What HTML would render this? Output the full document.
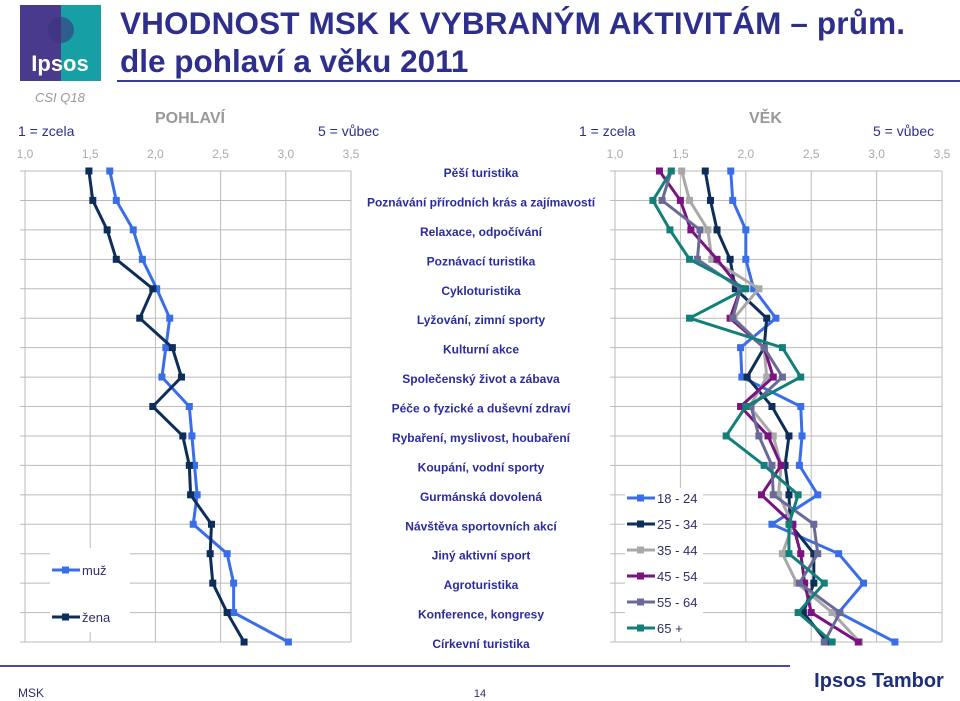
<!DOCTYPE html>
<html><head><meta charset="utf-8"><style>
body{margin:0;background:#fff;font-family:"Liberation Sans",sans-serif;}
#wrap{position:relative;width:960px;height:701px;overflow:hidden;}
</style></head><body>
<div id="wrap">
<svg id="svg" width="960" height="701" viewBox="0 0 960 701" style="position:absolute;left:0;top:0">
 <g>
  <rect x="20" y="5" width="41" height="76" fill="#4a3a8e"/>
  <rect x="61" y="5" width="40" height="76" fill="#16a0a6"/>
  <circle cx="61" cy="30" r="13" fill="#3d327d" opacity="0.6"/>
  <text x="60" y="71" font-size="22" font-weight="bold" fill="#fff" text-anchor="middle" font-family="Liberation Sans, sans-serif">Ipsos</text>
 </g>
 <text x="120" y="34" font-size="31.5" font-weight="bold" fill="#2e2e8c" textLength="785">VHODNOST MSK K VYBRANÝM AKTIVITÁM – prům.</text>
 <text x="120" y="72" font-size="31.5" font-weight="bold" fill="#2e2e8c">dle pohlaví a věku 2011</text>
 <line x1="117" y1="81" x2="960" y2="81" stroke="#3a3a9a" stroke-width="2"/>
 <text x="35" y="102" font-size="13" font-style="italic" fill="#999">CSI Q18</text>
 <text x="155" y="123" font-size="16" font-weight="bold" fill="#999">POHLAVÍ</text>
 <text x="749" y="123" font-size="16" font-weight="bold" fill="#999">VĚK</text>
 <text x="18" y="136" font-size="14" fill="#2e2e8c">1 = zcela</text>
 <text x="318" y="136" font-size="14" fill="#2e2e8c">5 = vůbec</text>
 <text x="579" y="136" font-size="14" fill="#2e2e8c">1 = zcela</text>
 <text x="873" y="136" font-size="14" fill="#2e2e8c">5 = vůbec</text>
 <g id="charts"></g>
 <line x1="0" y1="666" x2="790" y2="666" stroke="#4a4aa0" stroke-width="2"/>
 <text x="18" y="697" font-size="12" fill="#2e2e6c">MSK</text>
 <text x="480" y="697" font-size="11" fill="#2e2e6c" text-anchor="middle">14</text>
 <text x="879" y="687" font-size="20" font-weight="bold" fill="#1e2e7a" text-anchor="middle">Ipsos Tambor</text>
</svg>
</div>
<script>
const categories=["Pěší turistika","Poznávání přírodních krás a zajímavostí","Relaxace, odpočívání","Poznávací turistika","Cykloturistika","Lyžování, zimní sporty","Kulturní akce","Společenský život a zábava","Péče o fyzické a duševní zdraví","Rybaření, myslivost, houbaření","Koupání, vodní sporty","Gurmánská dovolená","Návštěva sportovních akcí","Jiný aktivní sport","Agroturistika","Konference, kongresy","Církevní turistika"];
const tickLabels=["1,0","1,5","2,0","2,5","3,0","3,5"];
const tickValues=[1,1.5,2,2.5,3,3.5];
const genderNames=["muž","žena"];
const muz=[1.65,1.70,1.83,1.90,2.01,2.11,2.08,2.05,2.26,2.28,2.30,2.32,2.29,2.55,2.60,2.60,3.02];
const zena=[1.49,1.52,1.63,1.70,1.98,1.88,2.13,2.20,1.98,2.21,2.26,2.27,2.43,2.42,2.44,2.55,2.68];
const ageNames=["18 - 24","25 - 34","35 - 44","45 - 54","55 - 64","65 +"];
const age1824=[1.885,1.90,2.0,2.0,2.06,2.23,1.96,1.97,2.42,2.43,2.41,2.55,2.20,2.71,2.90,2.71,3.14];
const age2534=[1.69,1.73,1.78,1.88,1.92,2.16,2.14,2.01,2.20,2.33,2.30,2.33,2.34,2.52,2.52,2.44,2.62];
const age3544=[1.51,1.57,1.71,1.74,2.10,1.91,2.14,2.16,2.03,2.21,2.27,2.25,2.36,2.28,2.39,2.66,2.87];
const age4554=[1.34,1.50,1.58,1.78,1.96,1.88,2.14,2.21,1.96,2.17,2.27,2.12,2.36,2.42,2.45,2.50,2.86];
const age5564=[1.43,1.36,1.65,1.63,1.96,1.90,2.14,2.28,2.04,2.10,2.20,2.21,2.52,2.55,2.41,2.72,2.60];
const age65=[1.43,1.29,1.42,1.57,2.00,1.57,2.28,2.42,2.00,1.85,2.14,2.40,2.33,2.33,2.60,2.40,2.66];

const NS="http://www.w3.org/2000/svg";
const root=document.getElementById('charts');
function mk(tag,attrs,parent){const e=document.createElementNS(NS,tag);for(const k in attrs)e.setAttribute(k,attrs[k]);(parent||root).appendChild(e);return e;}
const y0=171,y1=642;
function yPos(i){return y0+i*(y1-y0)/(categories.length-1);}

function drawChart(left,right,series,names,colors,legend,nameP){
  const g=mk('g',{});
  
  
  const xs=v=>left+(v-1)/(2.5)*(right-left);
  tickValues.forEach((v,i)=>{
    const l=mk('line',{x1:xs(v),x2:xs(v),y1:y0,y2:y1,stroke:'#bbb','stroke-width':1},g);
    
    
    const t=mk('text',{x:xs(v),y:158,'font-size':12,fill:'#aaa','text-anchor':'middle'},g);
    t.textContent=tickLabels[i];
    
    
  });
  categories.forEach((c,i)=>{
    const l=mk('line',{x1:left-5,x2:right,y1:yPos(i),y2:yPos(i),stroke:'#bbb','stroke-width':1},g);
    
    
  });
  const lb=mk('rect',{x:legend.x,y:legend.y,width:legend.w,height:legend.h,fill:'#fff'},g);
  
  
  series.forEach((s,si)=>{
    const pts=s.map((v,i)=>xs(v)+','+yPos(i)).join(' ');
    const pl=mk('polyline',{points:pts,fill:'none',stroke:colors[si],'stroke-width':3,'stroke-linejoin':'round'},g);
    
    
    s.forEach((v,i)=>{
      const r=mk('rect',{x:xs(v)-3.5,y:yPos(i)-3.5,width:7,height:7,fill:colors[si]},g);
      
      
    });
  });
  names.forEach((n,i)=>{
    const ly=legend.y+legend.first+i*legend.step;
    const le=mk('g',{},g);
    
    
    mk('line',{x1:legend.x+2,x2:legend.x+30,y1:ly,y2:ly,stroke:colors[i],'stroke-width':3},le);
    mk('rect',{x:legend.x+12,y:ly-3.5,width:7,height:7,fill:colors[i]},le);
    const t=mk('text',{x:legend.x+32,y:ly+5,'font-size':13,fill:'#2e2e6c'},le);
    t.textContent=n;
  });
}
drawChart(25,351,[muz,zena],genderNames,['#3a6ee8','#0e2e5a'],{x:50,y:548,w:80,h:84,first:22,step:47},'gender');
drawChart(615,942,[age1824,age2534,age3544,age4554,age5564,age65],ageNames,['#3a6ee8','#0e2e5a','#a8a8a8','#7a1280','#6a6a98','#128078'],{x:625,y:488,w:78,h:150,first:10,step:26},'age');

categories.forEach((c,i)=>{
  const t=mk('text',{x:481,y:yPos(i)+6,'font-size':12,'font-weight':'bold',fill:'#2b2ba0','text-anchor':'middle'});
  t.textContent=c;
  
  
});
</script>
</body></html>
